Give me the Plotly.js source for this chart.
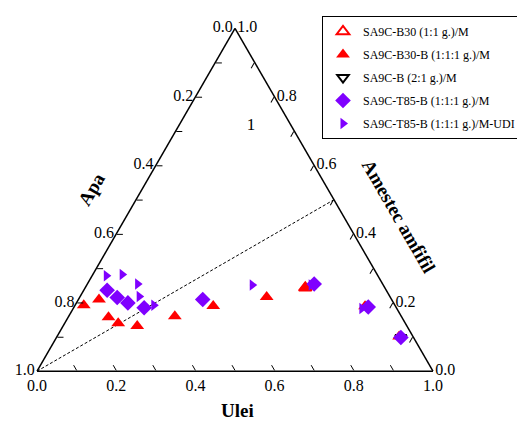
<!DOCTYPE html>
<html>
<head>
<meta charset="utf-8">
<script src="https://cdn.plot.ly/plotly-3.0.1.min.js"></script>
<style>
html,body{margin:0;padding:0;background:#fff;width:517px;height:422px;overflow:hidden;}
#chart{width:620px;height:422px;}
</style>
</head>
<body>
<div id="chart"></div>
<script>
// Components: Amestec amfifil (top vertex), Apa (bottom-left), Ulei (bottom-right)
const seriesNames = [
  'SA9C-B30 (1:1 g.)/M',
  'SA9C-B30-B (1:1:1 g.)/M',
  'SA9C-B (2:1 g.)/M',
  'SA9C-T85-B (1:1:1 g.)/M',
  'SA9C-T85-B (1:1:1 g.)/M-UDI'
];

// SA9C-B30 (1:1 g.)/M  (open red triangles – hidden under other markers)
const b30Amfifil = [0.243];
const b30Ulei    = [0.556];

// SA9C-B30-B (1:1:1 g.)/M
const b30bAmfifil = [0.192, 0.209, 0.157, 0.140, 0.132, 0.160, 0.190, 0.216, 0.243, 0.189, 0.101];
const b30bUlei    = [0.022, 0.052, 0.102, 0.135, 0.187, 0.268, 0.350, 0.472, 0.556, 0.734, 0.864];

// SA9C-B (2:1 g.)/M (hidden under other markers)
const bAmfifil = [0.098];
const bUlei    = [0.870];

// SA9C-T85-B (1:1:1 g.)/M
const t85Amfifil = [0.236, 0.215, 0.199, 0.185, 0.209, 0.254, 0.187, 0.098];
const t85Ulei    = [0.059, 0.095, 0.130, 0.178, 0.314, 0.573, 0.743, 0.870];

// SA9C-T85-B (1:1:1 g.)/M-UDI
const udAmfifil = [0.278, 0.282, 0.254, 0.218, 0.192, 0.251, 0.251, 0.183];
const udUlei    = [0.036, 0.074, 0.127, 0.149, 0.199, 0.418, 0.567, 0.729];

// dashed reference line
const lineAmfifil = [0.0, 0.5];
const lineUlei    = [0.0, 0.5];

// region label
const regionLabel = ['1'];
const regionAmfifil = [0.715];
const regionUlei = [0.183];

const tickVals   = [0, 0.1, 0.2, 0.3, 0.4, 0.5, 0.6, 0.7, 0.8, 0.9, 1.0];
const tickLabels = ['1.0', '', '0.8', '', '0.6', '', '0.4', '', '0.2', '', '0.0'];

const apa = (am, ul) => am.map((v, i) => +(1 - v - ul[i]).toFixed(3));

const W = 620, H = 422;
const RED = '#ff0000', PURPLE = '#7f00ff';
const serif = 'Liberation Serif, Times New Roman, serif';

function tr(name, am, ul, marker, rank) {
  return {
    type: 'scatterternary', mode: 'markers', name: name,
    a: am, b: apa(am, ul), c: ul,
    marker: marker, legendgroup: 'g' + rank, legendrank: rank, cliponaxis: false
  };
}

const data = [
  {type: 'scatterternary', mode: 'lines', a: lineAmfifil, b: apa(lineAmfifil, lineUlei), c: lineUlei,
   line: {color: '#000', width: 1, dash: '3px,2px'}, showlegend: false, hoverinfo: 'skip'},
  tr(seriesNames[2], bAmfifil, bUlei, {symbol: 'triangle-down-open', size: 10, color: '#000', line: {width: 2}}, 3),
  tr(seriesNames[0], b30Amfifil, b30Ulei, {symbol: 'triangle-up-open', size: 11, color: RED, line: {width: 2}}, 1),
  tr(seriesNames[1], b30bAmfifil, b30bUlei, {symbol: 'triangle-up', size: 12, color: RED}, 2),
  tr(seriesNames[4], udAmfifil, udUlei, {symbol: 'triangle-right', size: 10, color: PURPLE}, 5),
  tr(seriesNames[3], t85Amfifil, t85Ulei, {symbol: 'diamond', size: 12, color: PURPLE}, 4),
  {type: 'scatterternary', mode: 'text', a: regionAmfifil, b: apa(regionAmfifil, regionUlei), c: regionUlei,
   text: regionLabel, textfont: {family: serif, size: 17, color: '#000'}, showlegend: false, hoverinfo: 'skip'}
];

const axisBase = {
  tickmode: 'array', tickvals: tickVals, ticktext: tickLabels,
  ticks: 'inside', ticklen: 6, tickwidth: 1, tickcolor: '#000',
  showgrid: false, showline: true, linecolor: '#000', linewidth: 1.5,
  tickfont: {family: serif, size: 16, color: '#000'},
  title: {text: ''}, min: 0
};

function ann(text, px, py, angle) {
  return {text: text, x: px / W, y: 1 - py / H, xref: 'paper', yref: 'paper', showarrow: false,
          xanchor: 'center', yanchor: 'middle', textangle: angle || 0,
          font: {family: serif, size: 19, color: '#000'}};
}

const layout = {
  width: W, height: H,
  margin: {l: 0, r: 0, t: 0, b: 0, autoexpand: false},
  paper_bgcolor: '#fff',
  font: {family: serif, color: '#000'},
  ternary: {
    sum: 1,
    domain: {x: [37/W, 433/W], y: [0.1205, 0.933]},
    bgcolor: 'rgba(0,0,0,0)',
    aaxis: Object.assign({}, axisBase),
    baxis: Object.assign({}, axisBase),
    caxis: Object.assign({}, axisBase)
  },
  showlegend: true,
  legend: {
    x: 322/W, y: 1 - 16/H, xanchor: 'left', yanchor: 'top',
    bgcolor: '#fff', bordercolor: '#000', borderwidth: 1,
    font: {family: serif, size: 12, color: '#000'},
    tracegroupgap: 4, traceorder: 'grouped'
  },
  annotations: [
    ann('<b>Ulei</b>', 237, 410, 0),
    ann('<b>Apa</b>', 91, 189, -60),
    ann('<b>Amestec amfifil</b>', 398, 216, 60)
  ]
};

Plotly.newPlot('chart', data, layout, {displayModeBar: false, staticPlot: true});
</script>
</body>
</html>
